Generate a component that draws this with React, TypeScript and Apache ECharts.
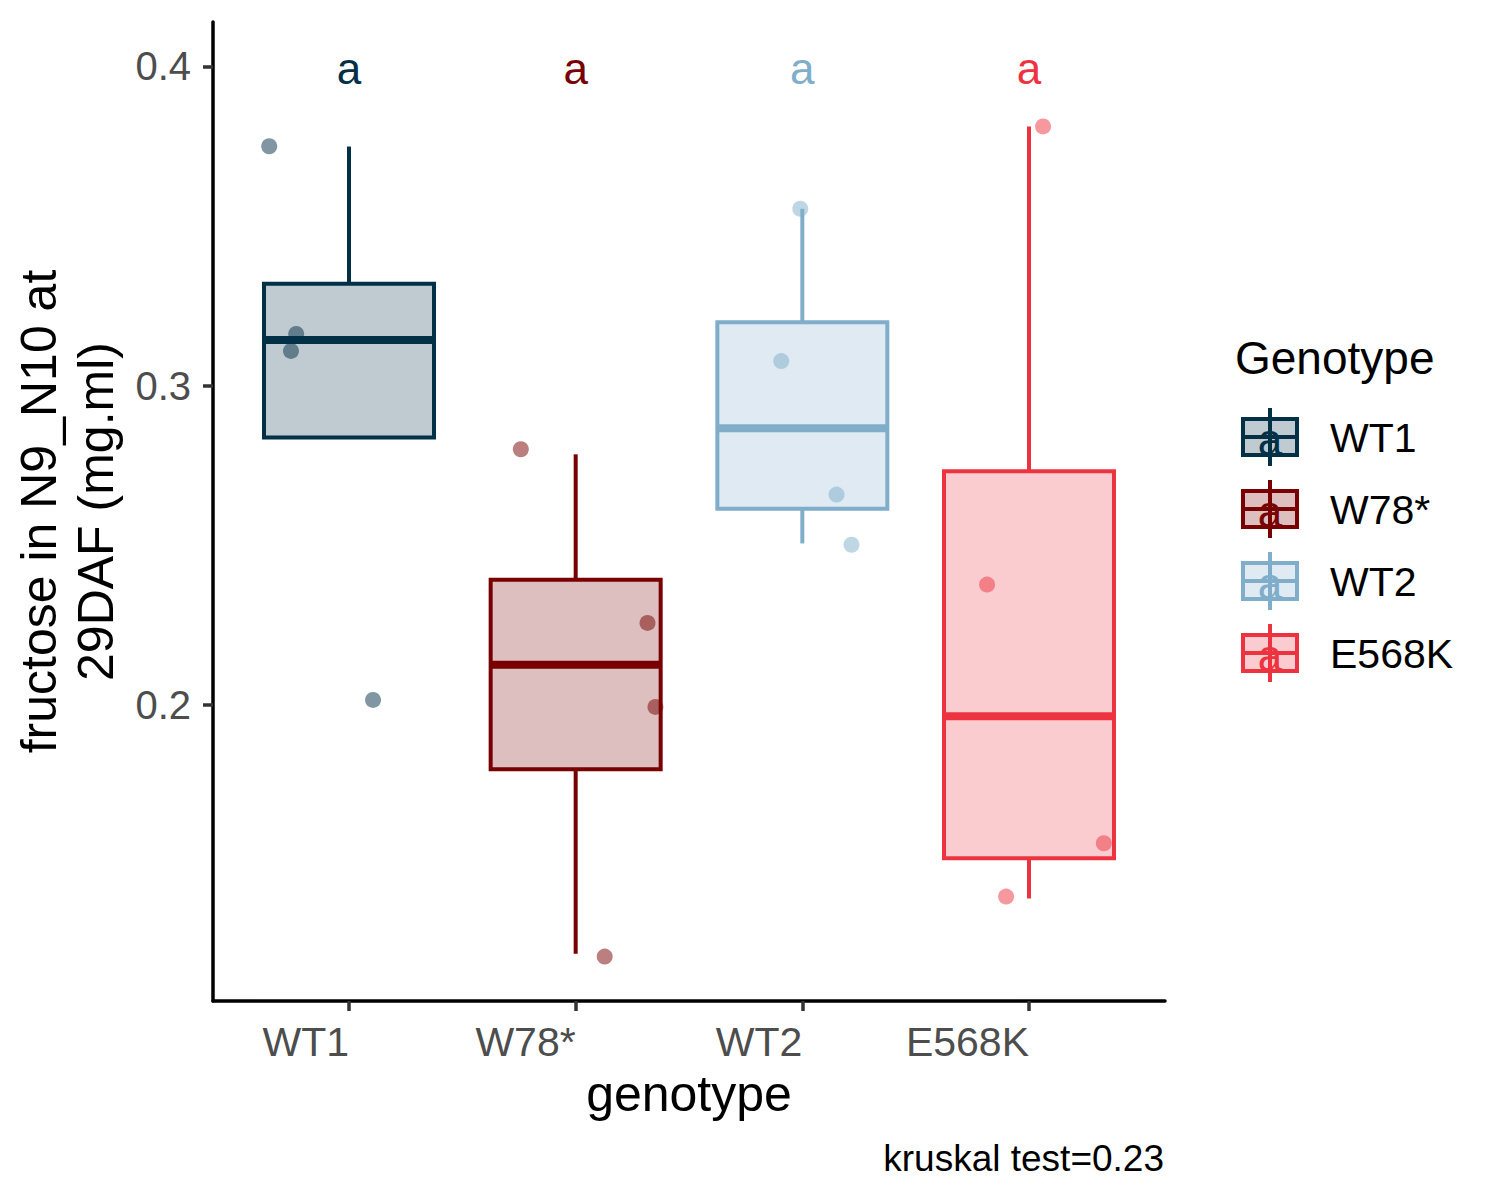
import { useEffect, useRef } from "react";
import * as echarts from "echarts";

const genotypes = ["WT1", "W78*", "WT2", "E568K"];
const colors = ["#023047", "#780000", "#7FADCA", "#EE3340"];

// box statistics
const whiskerLow = [0.2838, 0.1221, 0.2506, 0.1394];
const hingeLow = [0.2838, 0.1799, 0.2615, 0.152];
const medians = [0.3143, 0.2126, 0.2867, 0.1965];
const hingeHigh = [0.3319, 0.2392, 0.3199, 0.2732];
const whiskerHigh = [0.3749, 0.2785, 0.3554, 0.3812];

// jittered raw points (value + horizontal offset from the category)
const pointValues = [
    [0.375, 0.3162, 0.3109, 0.2016],
    [0.2801, 0.2257, 0.1994, 0.1212],
    [0.3554, 0.3077, 0.2659, 0.2502],
    [0.3812, 0.2377, 0.1567, 0.14],
];
const pointJitter = [
    [-0.352, -0.233, -0.256, 0.106],
    [-0.242, 0.317, 0.352, 0.128],
    [-0.009, -0.093, 0.151, 0.217],
    [0.062, -0.185, 0.33, -0.101],
];

const groupLetters = ["a", "a", "a", "a"];
const letterY = 0.4;
const yTicks = [0.2, 0.3, 0.4];
const xTicks = [1, 2, 3, 4];
const kruskalText = "kruskal test=0.23";

const FONT = "'Liberation Sans', Arial, Helvetica, sans-serif";

const withAlpha = (hex: string, a: number) => {
    const n = parseInt(hex.slice(1), 16);
    return `rgba(${(n >> 16) & 255}, ${(n >> 8) & 255}, ${n & 255}, ${a})`;
};

const App = () => {
    const chartRef = useRef<HTMLDivElement>(null);

    useEffect(() => {
        if (!chartRef.current) return;

        const chart = echarts.init(chartRef.current, undefined, { renderer: "svg" });

        const boxData = genotypes.map((_, i) => [
            i + 1,
            whiskerLow[i],
            hingeLow[i],
            medians[i],
            hingeHigh[i],
            whiskerHigh[i],
        ]);

        // legend drawn by hand: ggplot style boxplot keys with the letter on top
        const legendItems: any[] = [];
        genotypes.forEach((g, i) => {
            const cx = 1270;
            const cy = 437 + i * 72;
            const c = colors[i];
            legendItems.push(
                {
                    type: "line",
                    shape: { x1: cx, y1: cy - 29, x2: cx, y2: cy + 29 },
                    style: { stroke: c, lineWidth: 4 },
                },
                {
                    type: "rect",
                    shape: { x: cx - 27, y: cy - 18, width: 54, height: 36 },
                    style: { fill: withAlpha(c, 0.25), stroke: c, lineWidth: 4 },
                },
                {
                    type: "line",
                    shape: { x1: cx - 27, y1: cy, x2: cx + 27, y2: cy },
                    style: { stroke: c, lineWidth: 4 },
                },
                {
                    type: "text",
                    x: cx,
                    y: cy + 2,
                    style: {
                        text: groupLetters[i],
                        fill: c,
                        fontSize: 44,
                        fontFamily: FONT,
                        align: "center",
                        verticalAlign: "middle",
                    },
                },
                {
                    type: "text",
                    x: 1330,
                    y: cy + 1,
                    style: {
                        text: g,
                        fill: "#000000",
                        fontSize: 41,
                        fontFamily: FONT,
                        align: "left",
                        verticalAlign: "middle",
                    },
                }
            );
        });

        chart.setOption({
            animation: false,
            backgroundColor: "#ffffff",
            textStyle: { fontFamily: FONT },
            grid: { left: 213, right: 335, top: 22, bottom: 199, containLabel: false },
            xAxis: {
                type: "value",
                min: 0.4,
                max: 4.6,
                name: "genotype",
                nameLocation: "middle",
                nameGap: 68,
                nameTextStyle: { fontSize: 50, color: "#000000", fontFamily: FONT },
                splitLine: { show: false },
                axisLine: { show: true, onZero: false, lineStyle: { color: "#000000", width: 3.5 } },
                axisTick: {
                    show: true,
                    length: 10,
                    customValues: xTicks,
                    lineStyle: { color: "#333333", width: 3.5 },
                },
                axisLabel: {
                    customValues: xTicks,
                    formatter: (v: number) => genotypes[Math.round(v) - 1] ?? "",
                    align: "right",
                    fontSize: 41,
                    color: "#4D4D4D",
                    margin: 20,
                    fontFamily: FONT,
                },
            },
            yAxis: {
                type: "value",
                min: 0.1073,
                max: 0.4139,
                name: "fructose in N9_N10 at\n29DAF (mg.ml)",
                nameLocation: "middle",
                nameRotate: 90,
                nameGap: 84,
                nameTextStyle: {
                    fontSize: 50,
                    lineHeight: 57,
                    color: "#000000",
                    fontFamily: FONT,
                    align: "center",
                },
                splitLine: { show: false },
                axisLine: { show: true, onZero: false, lineStyle: { color: "#000000", width: 3.5 } },
                axisTick: {
                    show: true,
                    length: 10,
                    customValues: yTicks,
                    lineStyle: { color: "#333333", width: 3.5 },
                },
                axisLabel: {
                    customValues: yTicks,
                    formatter: (v: number) => v.toFixed(1),
                    fontSize: 40,
                    color: "#4D4D4D",
                    margin: 22,
                    fontFamily: FONT,
                },
            },
            series: [
                {
                    type: "custom",
                    name: "box",
                    data: boxData,
                    encode: { x: 0, y: [1, 2, 3, 4, 5] },
                    z: 2,
                    renderItem: (params: any, api: any) => {
                        const i = params.dataIndex;
                        const c = colors[i];
                        const x = api.value(0);
                        const lo = api.coord([x, api.value(1)]);
                        const q1 = api.coord([x, api.value(2)]);
                        const med = api.coord([x, api.value(3)]);
                        const q3 = api.coord([x, api.value(4)]);
                        const hi = api.coord([x, api.value(5)]);
                        const half = api.size([0.75, 0])[0] / 2;
                        const cx = med[0];
                        const children: any[] = [];
                        if (hi[1] < q3[1]) {
                            children.push({
                                type: "line",
                                shape: { x1: cx, y1: hi[1], x2: cx, y2: q3[1] },
                                style: { stroke: c, lineWidth: 4 },
                            });
                        }
                        if (lo[1] > q1[1]) {
                            children.push({
                                type: "line",
                                shape: { x1: cx, y1: q1[1], x2: cx, y2: lo[1] },
                                style: { stroke: c, lineWidth: 4 },
                            });
                        }
                        children.push({
                            type: "rect",
                            shape: { x: cx - half, y: q3[1], width: half * 2, height: q1[1] - q3[1] },
                            style: { fill: withAlpha(c, 0.25), stroke: c, lineWidth: 4 },
                        });
                        children.push({
                            type: "line",
                            shape: { x1: cx - half, y1: med[1], x2: cx + half, y2: med[1] },
                            style: { stroke: c, lineWidth: 8 },
                        });
                        return { type: "group", children };
                    },
                },
                ...genotypes.map((g, i) => ({
                    type: "scatter",
                    name: g,
                    symbolSize: 16,
                    z: 3,
                    itemStyle: { color: colors[i], opacity: 0.5 },
                    data: pointValues[i].map((v, j) => [i + 1 + pointJitter[i][j], v]),
                })),
                {
                    type: "custom",
                    name: "letters",
                    data: genotypes.map((_, i) => [i + 1, letterY]),
                    encode: { x: 0, y: 1 },
                    z: 4,
                    renderItem: (params: any, api: any) => {
                        const p = api.coord([api.value(0), api.value(1)]);
                        return {
                            type: "text",
                            x: p[0],
                            y: p[1] + 2,
                            style: {
                                text: groupLetters[params.dataIndex],
                                fill: colors[params.dataIndex],
                                fontSize: 44,
                                fontFamily: FONT,
                                align: "center",
                                verticalAlign: "middle",
                            },
                        };
                    },
                },
            ],
            graphic: [
                {
                    type: "text",
                    x: 1235,
                    y: 358,
                    style: {
                        text: "Genotype",
                        fill: "#000000",
                        fontSize: 46,
                        fontFamily: FONT,
                        align: "left",
                        verticalAlign: "middle",
                    },
                },
                ...legendItems,
                {
                    type: "text",
                    x: 1164,
                    y: 1158,
                    style: {
                        text: kruskalText,
                        fill: "#000000",
                        fontSize: 37,
                        fontFamily: FONT,
                        align: "right",
                        verticalAlign: "middle",
                    },
                },
            ],
        });

        const handleResize = () => chart.resize();
        window.addEventListener("resize", handleResize);

        return () => {
            chart.dispose();
            window.removeEventListener("resize", handleResize);
        };
    }, []);

    return (
        <div
            ref={chartRef}
            style={{
                position: "absolute",
                left: 0,
                top: 0,
                width: "1500px",
                height: "1200px",
            }}
        />
    );
};

export default App;
